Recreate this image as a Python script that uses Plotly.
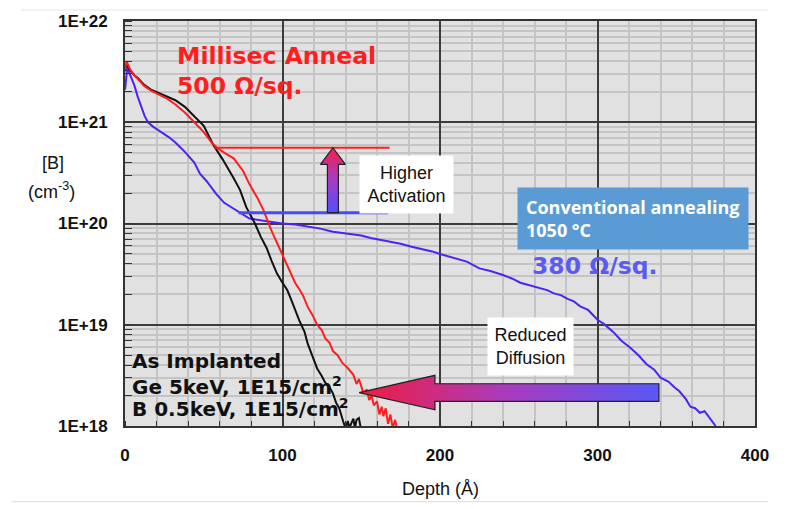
import numpy as np
import plotly.graph_objects as go

# ---- SIMS boron depth profiles (depth in Angstrom, concentration in cm^-3) ----
as_impl_depth = [0, 0.8, 3, 6, 8, 12, 16.5, 22, 27, 32, 38, 44, 50, 56, 62, 69, 73, 77,
                 82.5, 86, 90, 93, 96.5, 100, 103, 105, 108, 111, 114, 116, 119, 122, 125,
                 127, 130, 132, 134, 136, 138.6, 140, 141.5, 142.5, 143.5, 145, 146, 147,
                 148.5, 150]
as_impl_conc = [3.2e21, 3.8e21, 3.3e21, 2.9e21, 2.75e21, 2.35e21, 2.1e21, 1.92e21, 1.8e21,
                1.65e21, 1.42e21, 1.15e21, 9.2e20, 6.0e20, 4.3e20, 2.8e20, 2.15e20, 1.45e20,
                1.0e20, 7.5e19, 5.7e19, 4.3e19, 3.2e19, 2.6e19, 2.2e19, 1.85e19, 1.4e19,
                1.07e19, 8.5e18, 6.5e18, 4.9e18, 3.7e18, 3.1e18, 2.7e18, 2.4e18, 2.1e18,
                1.7e18, 1.5e18, 1.1e18, 9.5e17, 1.12e18, 9.5e17, 1.05e18, 1.18e18, 9.5e17,
                1.15e18, 1.2e18, 9.0e17]

msa_depth = [0, 1, 3, 5, 8, 12, 16.5, 22, 27, 32, 38, 44, 50, 55, 59, 64, 69, 75, 79, 84,
             88, 93, 97, 100, 103, 105, 108, 111, 113, 116, 119, 122, 125, 127, 130, 132,
             135, 138, 141, 145, 147, 148.5, 150, 151.5, 153.5, 155, 156.5, 158, 160, 161.5,
             163, 164, 165.5, 167, 168.5, 170, 171.5, 173]
msa_conc = [3.3e21, 4.0e21, 3.4e21, 3.0e21, 2.7e21, 2.3e21, 2.05e21, 1.85e21, 1.7e21,
            1.5e21, 1.25e21, 1.0e21, 8.0e20, 6.3e20, 5.5e20, 4.9e20, 4.4e20, 3.3e20,
            2.45e20, 1.8e20, 1.35e20, 8.5e19, 6.2e19, 4.8e19, 3.9e19, 3.3e19, 2.6e19,
            2.2e19, 1.95e19, 1.5e19, 1.25e19, 1.0e19, 8.8e18, 7.4e18, 6.6e18, 5.5e18,
            5.0e18, 4.2e18, 3.8e18, 3.2e18, 2.6e18, 2.9e18, 2.5e18, 2.1e18, 2.3e18, 1.8e18,
            2.0e18, 1.6e18, 1.75e18, 1.3e18, 1.55e18, 1.25e18, 1.5e18, 1.05e18, 1.3e18,
            9.5e17, 1.15e18, 9.0e17]

conv_depth = [0, 1.5, 3, 6, 8, 10, 12.5, 14.6, 18, 23, 28, 32, 38, 44, 47.6, 52, 58, 63,
              69, 74, 79, 90, 100, 108, 115, 124, 132, 141, 150, 156, 162, 170, 175, 182,
              189, 195, 200, 208, 217, 225, 232, 240, 246, 251, 257, 262, 268, 272, 277,
              281, 285, 289, 294, 300, 304, 310, 315, 321, 326, 331, 336, 340, 345, 349,
              352, 356, 359, 362, 365, 368, 371, 373, 375]
conv_conc = [2.1e21, 3.5e21, 3.0e21, 2.3e21, 1.8e21, 1.45e21, 1.15e21, 1.0e21, 9.0e20,
             8.0e20, 7.1e20, 6.3e20, 5.1e20, 4.0e20, 3.1e20, 2.6e20, 1.95e20, 1.6e20,
             1.4e20, 1.25e20, 1.12e20, 1.05e20, 1.0e20, 9.8e19, 9.4e19, 8.9e19, 8.3e19,
             8.0e19, 7.6e19, 7.2e19, 6.9e19, 6.6e19, 6.3e19, 5.9e19, 5.6e19, 5.3e19,
             5.0e19, 4.6e19, 4.2e19, 3.6e19, 3.4e19, 3.1e19, 2.85e19, 2.6e19, 2.45e19,
             2.3e19, 2.2e19, 2.05e19, 1.95e19, 1.8e19, 1.7e19, 1.52e19, 1.4e19, 1.12e19,
             1.02e19, 8.5e18, 7.0e18, 5.9e18, 5.0e18, 4.1e18, 3.6e18, 3.0e18, 2.75e18,
             2.4e18, 2.2e18, 1.85e18, 1.55e18, 1.5e18, 1.35e18, 1.4e18, 1.2e18, 1.1e18,
             1.0e18]

# ---- activation levels and arrows ----
msa_level, msa_level_x = 5.6e20, [57, 168]
conv_level, conv_level_x = 1.28e20, [72, 167]
act_arrow_x = 132.0                      # depth of the "higher activation" arrow
diff_arrow = dict(tip=148.6, head=196.8, tail=339.0, conc=2.14e18)

x_ticks = [0, 100, 200, 300, 400]
y_ticks = [1e18, 1e19, 1e20, 1e21, 1e22]
y_ticktext = ["1E+18", "1E+19", "1E+20", "1E+21", "1E+22"]

RED = "#ff1e1e"
BLUE = "#4f22f2"
BLACK = "#111111"
ARIAL = "Liberation Sans, Arial"
VERD = "DejaVu Sans"

fig = go.Figure()

for d, c, col in [(conv_depth, conv_conc, BLUE), (as_impl_depth, as_impl_conc, BLACK),
                  (msa_depth, msa_conc, RED)]:
    fig.add_trace(go.Scatter(x=d, y=c, mode="lines", line=dict(color=col, width=2),
                             hoverinfo="skip", showlegend=False))

# activation level lines
fig.add_trace(go.Scatter(x=msa_level_x, y=[msa_level] * 2, mode="lines",
                         line=dict(color=RED, width=2), hoverinfo="skip", showlegend=False))
fig.add_trace(go.Scatter(x=conv_level_x, y=[conv_level] * 2, mode="lines",
                         line=dict(color="#4a4af5", width=3), hoverinfo="skip", showlegend=False))

# vertical gradient arrow (blue -> red), built in log space
lo, hi = np.log10(conv_level), np.log10(msa_level)
head_base = hi - 0.165
sw, hw = 3.5, 7.9
vx = [act_arrow_x - sw, act_arrow_x - sw, act_arrow_x - hw, act_arrow_x, act_arrow_x + hw,
      act_arrow_x + sw, act_arrow_x + sw, act_arrow_x - sw]
vy = [lo, head_base, head_base, hi, head_base, head_base, lo, lo]
fig.add_trace(go.Scatter(
    x=vx, y=[10 ** v for v in vy], mode="lines", fill="toself",
    line=dict(color="#222222", width=1.2),
    fillgradient=dict(type="vertical",
                      colorscale=[[0, "#5050ff"], [0.5, "#a43cc4"], [1, "#f4204c"]]),
    hoverinfo="skip", showlegend=False))

# horizontal gradient arrow (red tip -> blue tail)
yc = np.log10(diff_arrow["conc"])
s_h, h_h = 0.087, 0.17
hx = [diff_arrow["tip"], diff_arrow["head"], diff_arrow["head"], diff_arrow["tail"],
      diff_arrow["tail"], diff_arrow["head"], diff_arrow["head"], diff_arrow["tip"]]
hy = [yc, yc + h_h, yc + s_h, yc + s_h, yc - s_h, yc - s_h, yc - h_h, yc]
fig.add_trace(go.Scatter(
    x=hx, y=[10 ** v for v in hy], mode="lines", fill="toself",
    line=dict(color="#222222", width=1.2),
    fillgradient=dict(type="horizontal",
                      colorscale=[[0, "#f01c40"], [0.5, "#a83cc0"], [1, "#5858f6"]]),
    hoverinfo="skip", showlegend=False))

tick_font = dict(family=ARIAL, size=17, color="#111111", weight="bold")

ann = []
ann.append(dict(x=31.7, y=21.65, text="<b>Millisec Anneal</b>", xanchor="left", yanchor="middle",
                font=dict(family=VERD, size=23.5, color=RED)))
ann.append(dict(x=31.7, y=21.36, text="<b>500 Ω/sq.</b>", xanchor="left", yanchor="middle",
                font=dict(family=VERD, size=23.5, color=RED)))
ann.append(dict(x=257, y=19.58, text="<b>380 Ω/sq.</b>", xanchor="left", yanchor="middle",
                font=dict(family=VERD, size=23.5, color="#5b5bf2")))
for yv, t in [(18.64, "<b>As Implanted</b>"),
              (18.40, "<b>Ge 5keV, 1E15/cm<sup>2</sup></b>"),
              (18.18, "<b>B 0.5keV, 1E15/cm<sup>2</sup></b>")]:
    ann.append(dict(x=3.2, y=yv, text=t, xanchor="left", yanchor="middle",
                    font=dict(family=VERD, size=20, color="#111111")))
ann.append(dict(x=148.6, y=20.68, text="Higher<br>Activation", xanchor="left", yanchor="top",
                width=93, height=57, bgcolor="white", borderpad=0, align="center",
                font=dict(family=ARIAL, size=18, color="#111111")))
ann.append(dict(x=229.8, y=19.08, text="Reduced<br>Diffusion", xanchor="left", yanchor="top",
                width=85, height=57, bgcolor="white", borderpad=0, align="center",
                font=dict(family=ARIAL, size=18, color="#111111")))
ann.append(dict(x=248.9, y=20.36, text="<b>Conventional annealing<br>1050 °C</b>",
                xanchor="left", yanchor="top", width=214, height=45, bgcolor="#5b9bd5",
                borderpad=8, align="left",
                font=dict(family="Open Sans", size=18, color="white")))
for a in ann:
    a.update(xref="x", yref="y", showarrow=False)

# axis titles
ann.append(dict(x=-0.114, y=0.65, xref="paper", yref="paper", showarrow=False,
                text="[B]", xanchor="center", yanchor="middle",
                font=dict(family=ARIAL, size=18, color="#111111")))
ann.append(dict(x=-0.116, y=0.582, xref="paper", yref="paper", showarrow=False,
                text="(cm<sup>-3</sup>)", xanchor="center", yanchor="middle",
                font=dict(family=ARIAL, size=18, color="#111111")))
ann.append(dict(x=0.5, y=-0.155, xref="paper", yref="paper", showarrow=False,
                text="Depth (Å)", yanchor="middle",
                font=dict(family=ARIAL, size=18, color="#111111")))

fig.update_layout(
    width=794, height=509,
    margin=dict(l=125, r=39, t=14, b=83),
    paper_bgcolor="white", plot_bgcolor="#e1e1e1",
    annotations=ann,
    shapes=[
        dict(type="line", xref="paper", yref="paper", x0=-0.165, x1=1.02, y0=1.027, y1=1.027,
             line=dict(color="#e4e4e4", width=1)),
        dict(type="line", xref="paper", yref="paper", x0=-0.18, x1=1.02, y0=-0.187, y1=-0.187,
             line=dict(color="#dcdcdc", width=1)),
    ],
)
fig.update_xaxes(
    range=[0, 400], tickvals=x_ticks, ticks="", tickfont=tick_font,
    showgrid=True, gridcolor="#3c3c3c", gridwidth=1.5,
    minor=dict(dtick=20, showgrid=True, gridcolor="#c4c4c4", gridwidth=1.5,
               ticks="inside", ticklen=5, tickcolor="#333333"),
    showline=True, linecolor="#333333", linewidth=2, mirror=True, zeroline=False,
    ticklabelstandoff=13,
)
fig.update_yaxes(
    type="log", range=[18, 22], tickvals=y_ticks, ticktext=y_ticktext, ticks="",
    tickfont=tick_font, showgrid=True, gridcolor="#3c3c3c", gridwidth=1.5,
    minor=dict(dtick="D1", showgrid=True, gridcolor="#c4c4c4", gridwidth=1.5,
               ticks="inside", ticklen=7, tickcolor="#333333"),
    showline=True, linecolor="#333333", linewidth=2, mirror=True, zeroline=False,
    ticklabelstandoff=12,
)

fig.write_html("out.html")
